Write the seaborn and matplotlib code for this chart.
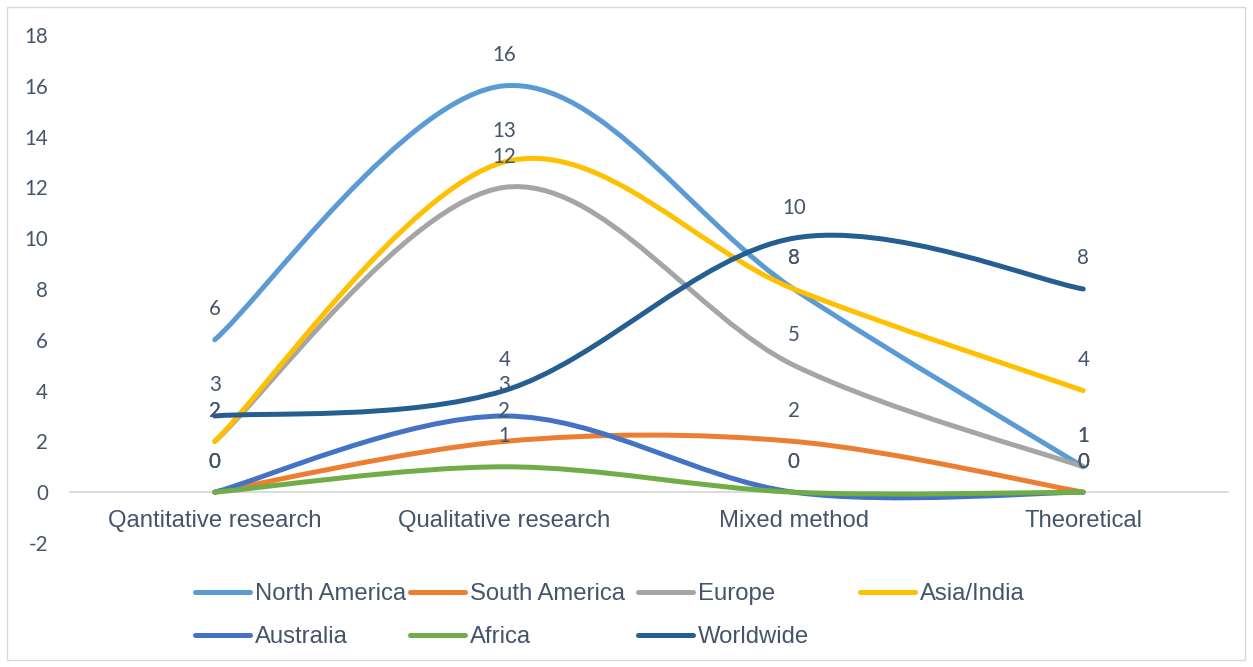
import matplotlib
matplotlib.use("Agg")
import numpy as np
import matplotlib.pyplot as plt
from matplotlib.path import Path
from matplotlib.patches import PathPatch, Rectangle
from matplotlib.lines import Line2D
import seaborn as sns

# ---- data -------------------------------------------------------------
categories = ["Qantitative research", "Qualitative research", "Mixed method", "Theoretical"]

north_america = [6, 16, 8, 1]
south_america = [0, 2, 2, 0]
europe = [2, 12, 5, 1]
asia_india = [2, 13, 8, 4]
australia = [0, 3, 0, 0]
africa = [0, 1, 0, 0]
worldwide = [3, 4, 10, 8]

series_names = ["North America", "South America", "Europe", "Asia/India",
                "Australia", "Africa", "Worldwide"]
series_values = [north_america, south_america, europe, asia_india,
                 australia, africa, worldwide]

y_ticks = list(range(-2, 19, 2))

# ---- style ------------------------------------------------------------
sns.set_theme(style="white")
palette = sns.color_palette(["#5B9BD5", "#ED7D31", "#A5A5A5", "#FFC000",
                             "#4472C4", "#70AD47", "#255E91"])
TEXT = "#44546A"
AXIS = "#D9D9D9"
NUM_FONT = ["Lato", "DejaVu Sans"]
CAT_FONT = ["Liberation Sans", "DejaVu Sans"]
plt.rcParams["font.family"] = CAT_FONT

W, H = 1253, 667
fig = plt.figure(figsize=(W / 100, H / 100), dpi=100)
fig.patch.set_facecolor("white")
ax = fig.add_axes([70 / W, 124 / H, 1158 / W, 508 / H])
ax.set_facecolor("white")
ax.set_xlim(-0.5, 3.5)
ax.set_ylim(-2, 18)


def smooth_path(xs, ys):
    """Cubic Bezier path through the points (Catmull-Rom style tangents)."""
    pts = np.column_stack([xs, ys]).astype(float)
    n = len(pts)
    verts = [pts[0]]
    codes = [Path.MOVETO]
    for i in range(n - 1):
        p0 = pts[max(i - 1, 0)]
        p1 = pts[i]
        p2 = pts[i + 1]
        p3 = pts[min(i + 2, n - 1)]
        c1 = p1 + (p2 - p0) / 6.0
        c2 = p2 - (p3 - p1) / 6.0
        verts += [c1, c2, p2]
        codes += [Path.CURVE4] * 3
    return Path(verts, codes)


LW = 3.6
x_pos = np.arange(len(categories))
for name, vals, col in zip(series_names, series_values, palette):
    patch = PathPatch(smooth_path(x_pos, vals), fill=False, edgecolor=col,
                      lw=LW, capstyle="round", joinstyle="round", zorder=3)
    ax.add_patch(patch)

# data labels, drawn above each point
for vals in series_values:
    for xi, v in zip(x_pos, vals):
        ax.annotate(f"{v}", (xi, v), xytext=(0, 22), textcoords="offset points",
                    ha="center", va="center", fontsize=14.8, color=TEXT,
                    family=NUM_FONT, zorder=6)

# ---- axes -------------------------------------------------------------
for s in ["left", "top", "right"]:
    ax.spines[s].set_visible(False)
ax.spines["bottom"].set_position(("data", 0))
ax.spines["bottom"].set_color(AXIS)
ax.spines["bottom"].set_linewidth(1.3)
ax.spines["bottom"].set_zorder(1)

ax.set_xticks(x_pos)
ax.set_xticklabels(categories, fontsize=17.2, color=TEXT, family=CAT_FONT)
ax.tick_params(axis="x", which="major", length=0, pad=13)
ax.set_xticks(np.arange(-0.5, len(categories), 1.0), minor=True)
ax.tick_params(axis="x", which="minor", length=5, width=1.3, color=AXIS,
               direction="out")

ax.set_yticks(y_ticks)
ax.set_yticklabels([str(t) for t in y_ticks], fontsize=14.8, color=TEXT,
                   family=NUM_FONT)
ax.tick_params(axis="y", length=0, pad=16)
ax.grid(False)

# ---- legend (one entry per slot, laid out like a 4-column grid) --------
col_x = [195, 410, 638, 860]
row_y = [594, 637]
slots = [(0, 0), (1, 0), (2, 0), (3, 0), (0, 1), (1, 1), (2, 1)]
for name, col, (c, r) in zip(series_names, palette, slots):
    handle = Line2D([], [], color=col, lw=LW, solid_capstyle="round")
    fig.legend([handle], [name], loc="center left",
               bbox_to_anchor=(col_x[c] / W, 1 - row_y[r] / H),
               frameon=False, borderpad=0, borderaxespad=0,
               handlelength=2.3, handletextpad=0.22,
               prop={"family": CAT_FONT, "size": 17.2}, labelcolor=TEXT)

# thin border round the whole chart
fig.add_artist(Rectangle((7 / W, 7 / H), (1245 - 7) / W, (660 - 7) / H,
                         transform=fig.transFigure, fill=False,
                         edgecolor=AXIS, lw=1.0))

fig.savefig("out.png", dpi=100, facecolor="white")
